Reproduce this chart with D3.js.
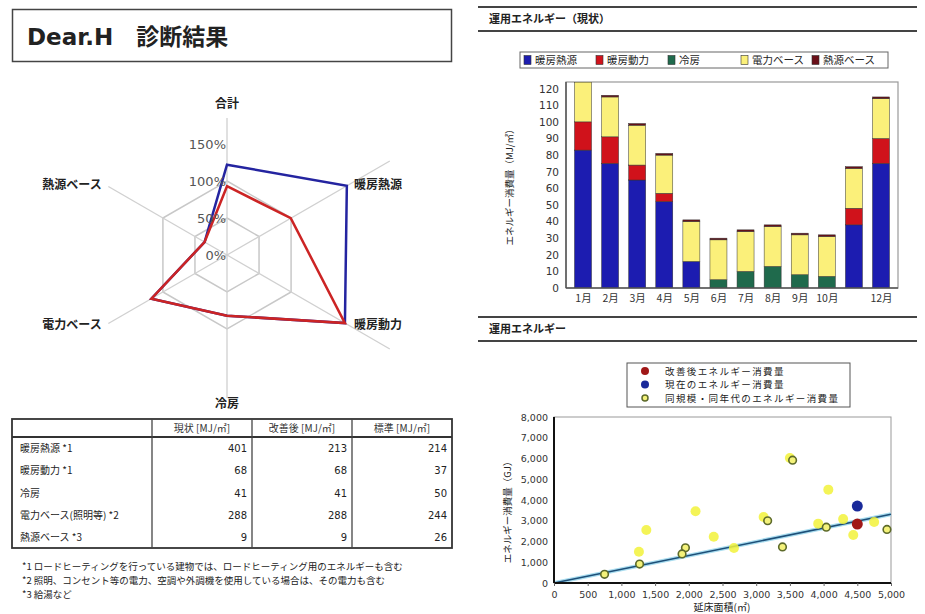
<!DOCTYPE html>
<html><head><meta charset="utf-8">
<script src="https://cdn.jsdelivr.net/npm/d3@7"></script>
<style>
body{margin:0;background:#fff;}
svg text{font-family:"DejaVu Sans","Noto Sans CJK JP",sans-serif;fill:#222;}
</style></head>
<body><svg id="c" width="925" height="614"></svg>
<script>
// ---------- DATA ----------
const titleText = "Dear.H　診断結果";
const radarAxes = ["合計","暖房熱源","暖房動力","冷房","電力ベース","熱源ベース"];
const radarCurrent = [122, 187, 184, 82, 118, 35];   // % of standard
const radarImproved = [93, 99.5, 184, 82, 118, 35];
const radarRingValues = [0, 50, 100, 150];
const radarGridValues = [50, 100];

const tableHeaders = ["", "現状 [MJ/㎡]", "改善後 [MJ/㎡]", "標準 [MJ/㎡]"];
const tableRowLabels = ["暖房熱源 *1","暖房動力 *1","冷房","電力ベース(照明等) *2","熱源ベース *3"];
const tableCurrent = [401, 68, 41, 288, 9];
const tableImproved = [213, 68, 41, 288, 9];
const tableStandard = [214, 37, 50, 244, 26];
const footnotes = [
  "*1 ロードヒーティングを行っている建物では、ロードヒーティング用のエネルギーも含む",
  "*2 照明、コンセント等の電力、空調や外調機を使用している場合は、その電力も含む",
  "*3 給湯など"
];

const months = ["1月","2月","3月","4月","5月","6月","7月","8月","9月","10月","11月","12月"];
const monthTickLabels = ["1月","2月","3月","4月","5月","6月","7月","8月","9月","10月","","12月"];
const barSeries = ["暖房熱源","暖房動力","冷房","電力ベース","熱源ベース"];
const heatingSource = [83, 75, 65, 52, 16, 0, 0, 0, 0, 0, 38, 75];
const heatingPower  = [17, 16, 9, 5, 0, 0, 0, 0, 0, 0, 10, 15];
const cooling       = [0, 0, 0, 0, 0, 5, 10, 13, 8, 7, 0, 0];
const electricBase  = [24, 24, 24, 23, 24, 24, 24, 24, 24, 24, 24, 24];
const heatBase      = [1, 1, 1, 1, 1, 1, 1, 1, 1, 1, 1, 1];
const barYTicks = [0,10,20,30,40,50,60,70,80,90,100,110,120];

const scatterLegend = ["改善後エネルギー消費量","現在のエネルギー消費量","同規模・同年代のエネルギー消費量"];
const peerOutlined = [[750,420],[1270,910],[1950,1700],[1900,1400],[3170,3000],[3390,1740],[3540,5920],[4040,2690],[4940,2580]];
const peerLight = [[1260,1510],[1370,2550],[2100,3460],[2370,2230],[2670,1690],[3110,3180],[3500,6020],[4070,4500],[3920,2860],[4290,3080],[4440,2310],[4750,2940]];
const currentPoint = [4500, 3710];
const improvedPoint = [4500, 2840];
const trendEnd = [5000, 3310];
const scatterXTicks = [0,500,1000,1500,2000,2500,3000,3500,4000,4500,5000];
const scatterYTicks = [0,1000,2000,3000,4000,5000,6000,7000,8000];

// ---------- DRAW ----------
const svg = d3.select("#c");
const JP = '"Noto Sans CJK JP","DejaVu Sans",sans-serif';

// Title box
svg.append("rect").attr("x",12.5).attr("y",9.5).attr("width",439).attr("height",52)
  .attr("fill","#fff").attr("stroke","#444").attr("stroke-width",1.5);
svg.append("text").attr("x",27).attr("y",45).attr("font-size",23).attr("font-weight","bold")
  .style("font-family",'"DejaVu Sans","Noto Sans CJK JP",sans-serif').text(titleText);

// ---------- Radar ----------
const cx = 227, cy = 255;
const rScale = d3.scaleLinear().domain([0,100]).range([0,74]);
const ang = i => -Math.PI/2 + i*Math.PI/3;
const axisLen = [137, 188, 188, 143, 137, 137];
const rg = svg.append("g");
radarGridValues.forEach(v=>{
  const pts = radarAxes.map((a,i)=>[cx+rScale(v)*Math.cos(ang(i)), cy+rScale(v)*Math.sin(ang(i))]);
  rg.append("polygon").attr("points",pts.map(p=>p.join(",")).join(" "))
    .attr("fill","none").attr("stroke","#c8c8c8").attr("stroke-width",1.5);
});
radarAxes.forEach((a,i)=>{
  rg.append("line").attr("x1",cx).attr("y1",cy)
    .attr("x2",cx+axisLen[i]*Math.cos(ang(i))).attr("y2",cy+axisLen[i]*Math.sin(ang(i)))
    .attr("stroke","#d0d0d0").attr("stroke-width",1.3);
});
const line = d3.lineRadial().angle((d,i)=>i*Math.PI/3).radius(d=>rScale(d)).curve(d3.curveLinearClosed);
rg.append("path").attr("transform",`translate(${cx},${cy})`).attr("d",line(radarCurrent))
  .attr("fill","none").attr("stroke","#2424a0").attr("stroke-width",2.5);
rg.append("path").attr("transform",`translate(${cx},${cy})`).attr("d",line(radarImproved))
  .attr("fill","none").attr("stroke","#cc2424").attr("stroke-width",2.5);
radarRingValues.forEach(v=>{
  rg.append("text").attr("x",cx-1).attr("y",cy-rScale(v)+5).attr("text-anchor","end")
    .attr("font-size",13).style("fill","#555").text(v+"%");
});
const radarLabelPos = [[227,108],[378,189],[378,329],[227,408],[72,329],[72,189]];
radarAxes.forEach((a,i)=>{
  rg.append("text").attr("x",radarLabelPos[i][0]).attr("y",radarLabelPos[i][1])
    .attr("text-anchor","middle").attr("font-size",12).attr("font-weight","bold")
    .style("font-family",JP).text(a);
});

// ---------- Table ----------
const tb = svg.append("g");
const colX = [12, 152, 252, 352, 452];
const tTop = 419, tHead = 437, rowH = 22.2;
tb.append("rect").attr("x",12).attr("y",tTop).attr("width",440).attr("height",129)
  .attr("fill","none").attr("stroke","#333").attr("stroke-width",1.8);
tb.append("line").attr("x1",12).attr("x2",452).attr("y1",tHead).attr("y2",tHead).attr("stroke","#333").attr("stroke-width",2);
colX.slice(1,4).forEach(x=>tb.append("line").attr("x1",x).attr("x2",x).attr("y1",tTop).attr("y2",548).attr("stroke","#444").attr("stroke-width",1.3));
tableHeaders.forEach((h,j)=>{
  if(!h) return;
  tb.append("text").attr("x",(colX[j]+colX[j+1])/2).attr("y",tHead-5).attr("text-anchor","middle")
    .attr("font-size",10).style("fill","#333").style("font-family",JP).text(h);
});
const cols = [tableCurrent, tableImproved, tableStandard];
tableRowLabels.forEach((l,i)=>{
  const y = tHead + rowH*(i+0.5) + 4;
  tb.append("text").attr("x",20).attr("y",y).attr("font-size",10).style("font-family",JP).text(l);
  cols.forEach((c,j)=>{
    tb.append("text").attr("x",colX[j+2]-5).attr("y",y).attr("text-anchor","end").attr("font-size",10).text(c[i]);
  });
});
footnotes.forEach((f,i)=>{
  svg.append("text").attr("x",22).attr("y",570+i*14).attr("font-size",9.5).style("font-family",JP).text(f);
});

// ---------- Section headers ----------
function header(y, txt){
  svg.append("line").attr("x1",478).attr("x2",917).attr("y1",y).attr("y2",y).attr("stroke","#444").attr("stroke-width",1.8);
  svg.append("line").attr("x1",478).attr("x2",917).attr("y1",y+24).attr("y2",y+24).attr("stroke","#444").attr("stroke-width",2);
  svg.append("text").attr("x",489).attr("y",y+16).attr("font-size",11).attr("font-weight","bold").style("font-family",JP).text(txt);
}
header(7, "運用エネルギー（現状）");
header(317, "運用エネルギー");

// ---------- Stacked bar chart ----------
const barColors = ["#1c1cb0","#d0121b","#1f6a4c","#fbf07a","#6a0f18"];
const barData = months.map((m,i)=>({month:m, "暖房熱源":heatingSource[i], "暖房動力":heatingPower[i], "冷房":cooling[i], "電力ベース":electricBase[i], "熱源ベース":heatBase[i]}));
const stack = d3.stack().keys(barSeries)(barData);
const bx = d3.scalePoint().domain(months).range([583, 881]);
const bw = 17;
const by = d3.scaleLinear().domain([0,124]).range([288, 82]);
const bg = svg.append("g");
bg.append("clipPath").attr("id","bclip").append("rect").attr("x",566).attr("y",82).attr("width",332).attr("height",206);
bg.append("rect").attr("x",566).attr("y",82).attr("width",332).attr("height",206).attr("fill","#fff").attr("stroke","#999").attr("stroke-width",1.2);
const bars = bg.append("g").attr("clip-path","url(#bclip)");
stack.forEach((s,k)=>{
  bars.selectAll(null).data(s).enter().append("rect")
    .attr("x",d=>bx(d.data.month)-bw/2).attr("width",bw)
    .attr("y",d=>by(d[1])).attr("height",d=>Math.max(0,by(d[0])-by(d[1])))
    .attr("fill",barColors[k])
    .attr("stroke",d=>d[1]>d[0]?"#333":"none").attr("stroke-width",0.5);
});
bg.append("line").attr("x1",566).attr("x2",566).attr("y1",82).attr("y2",288).attr("stroke","#555").attr("stroke-width",1.5);
bg.append("line").attr("x1",566).attr("x2",898).attr("y1",288).attr("y2",288).attr("stroke","#555").attr("stroke-width",1.5);
const yAx = d3.axisLeft(by).tickValues(barYTicks).tickSize(0).tickPadding(7);
bg.append("g").attr("transform","translate(566,0)").call(yAx).call(g=>{g.select(".domain").remove(); g.selectAll("text").attr("font-size",10.5).style("font-family","DejaVu Sans").style("fill","#333");});
const xAx = d3.axisBottom(bx).tickSize(0).tickPadding(7).tickFormat((d,i)=>monthTickLabels[i]);
bg.append("g").attr("transform","translate(0,288)").call(xAx).call(g=>{g.select(".domain").remove(); g.selectAll("text").attr("font-size",10.5).style("font-family",JP).style("fill","#333");});
bg.append("text").attr("transform","translate(513,185) rotate(-90)").attr("text-anchor","middle")
  .attr("font-size",9.5).style("font-family",JP).text("エネルギー消費量（MJ/㎡）");
// legend
const lg = svg.append("g");
lg.append("rect").attr("x",520).attr("y",52).attr("width",368).attr("height",16).attr("fill","#fff").attr("stroke","#666");
const legX = [524, 596, 668, 741, 812];
barSeries.forEach((s,i)=>{
  lg.append("rect").attr("x",legX[i]).attr("y",55.5).attr("width",7).attr("height",9).attr("fill",barColors[i]).attr("stroke","#333").attr("stroke-width",0.6);
  lg.append("text").attr("x",legX[i]+11).attr("y",64).attr("font-size",10.5).style("font-family",JP).text(s);
});

// ---------- Scatter ----------
const sx = d3.scaleLinear().domain([0,5000]).range([554, 891]);
const sy = d3.scaleLinear().domain([0,8000]).range([583, 417]);
const sg = svg.append("g");
sg.append("clipPath").attr("id","sclip").append("rect").attr("x",554).attr("y",417).attr("width",337).attr("height",166);
sg.append("rect").attr("x",554).attr("y",417).attr("width",337).attr("height",166).attr("fill","#fff").attr("stroke","#999");
sg.append("g").attr("clip-path","url(#sclip)").append("line")
  .attr("x1",sx(0)).attr("y1",sy(0)).attr("x2",sx(trendEnd[0])).attr("y2",sy(trendEnd[1]))
  .attr("stroke","#a8dcef").attr("stroke-width",4);
sg.append("line").attr("x1",sx(0)).attr("y1",sy(0)).attr("x2",sx(trendEnd[0])).attr("y2",sy(trendEnd[1]))
  .attr("stroke","#1d4f78").attr("stroke-width",1.6);
sg.selectAll(null).data(peerLight).enter().append("circle")
  .attr("cx",d=>sx(d[0])).attr("cy",d=>sy(d[1])).attr("r",5).attr("fill","#f2f23a").attr("opacity",0.85);
sg.selectAll(null).data(peerOutlined).enter().append("circle")
  .attr("cx",d=>sx(d[0])).attr("cy",d=>sy(d[1])).attr("r",3.8).attr("fill","#f4f27a").attr("stroke","#5d6a2a").attr("stroke-width",1.6);
sg.append("circle").attr("cx",sx(currentPoint[0])).attr("cy",sy(currentPoint[1])).attr("r",5.5).attr("fill","#1a2a9a");
sg.append("circle").attr("cx",sx(improvedPoint[0])).attr("cy",sy(improvedPoint[1])).attr("r",5.5).attr("fill","#a01818");
sg.append("line").attr("x1",554).attr("x2",554).attr("y1",417).attr("y2",583).attr("stroke","#111").attr("stroke-width",2);
sg.append("line").attr("x1",554).attr("x2",891).attr("y1",583).attr("y2",583).attr("stroke","#111").attr("stroke-width",2);
const fmt = d3.format(",");
sg.append("g").attr("transform","translate(554,0)").call(d3.axisLeft(sy).tickValues(scatterYTicks).tickFormat(fmt).tickSize(0).tickPadding(6))
  .call(g=>{g.select(".domain").remove(); g.selectAll("text").attr("font-size",9.5).style("font-family","DejaVu Sans").style("fill","#333");});
sg.append("g").attr("transform","translate(0,583)").call(d3.axisBottom(sx).tickValues(scatterXTicks).tickFormat(fmt).tickSize(3).tickPadding(5))
  .call(g=>{g.select(".domain").remove(); g.selectAll("line").attr("stroke","#666"); g.selectAll("text").attr("font-size",9.5).style("font-family","DejaVu Sans").style("fill","#333");});
sg.append("text").attr("x",722).attr("y",611).attr("text-anchor","middle").attr("font-size",10).style("font-family",JP).text("延床面積(㎡)");
sg.append("text").attr("transform","translate(511,510) rotate(-90)").attr("text-anchor","middle")
  .attr("font-size",9.5).style("font-family",JP).text("エネルギー消費量（GJ）");
// legend
const sl = svg.append("g");
sl.append("rect").attr("x",627).attr("y",363).attr("width",223).attr("height",44).attr("fill","#fff").attr("stroke","#555");
scatterLegend.forEach((t,i)=>{
  const y = 371 + i*13.5;
  const c = sl.append("circle").attr("cx",645).attr("cy",y);
  if(i===0) c.attr("r",4).attr("fill","#a01818");
  else if(i===1) c.attr("r",4).attr("fill","#1a2a9a");
  else c.attr("r",3).attr("fill","#f4f27a").attr("stroke","#5d6a2a").attr("stroke-width",1.5);
  sl.append("text").attr("x",665).attr("y",y+3.5).attr("font-size",9.5).attr("letter-spacing",1.4).style("font-family",JP).text(t);
});
</script></body></html>
